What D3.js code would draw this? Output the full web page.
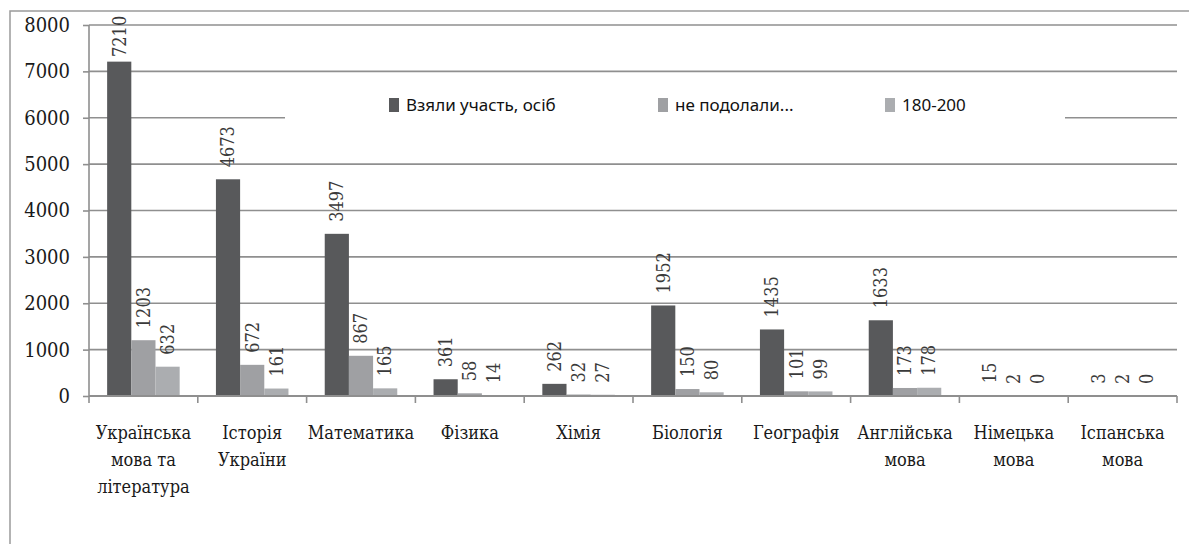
<!DOCTYPE html>
<html><head><meta charset="utf-8">
<script src="https://cdn.jsdelivr.net/npm/d3@7"></script>
<style>html,body{margin:0;padding:0;background:#fff;overflow:hidden}
.serif{font-family:"DejaVu Serif Condensed","DejaVu Serif",serif;font-stretch:condensed}</style>
</head><body><svg id="c" width="1189" height="544"></svg>
<script>
const categories = [["Українська","мова та","література"],["Історія","України"],["Математика"],["Фізика"],["Хімія"],["Біологія"],["Географія"],["Англійська","мова"],["Німецька","мова"],["Іспанська","мова"]];
const seriesNames = ["Взяли участь, осіб","не подолали...","180-200"];
const took = [7210,4673,3497,361,262,1952,1435,1633,15,3];
const failed = [1203,672,867,58,32,150,101,173,2,2];
const top180 = [632,161,165,14,27,80,99,178,0,0];
const yTicks = [0,1000,2000,3000,4000,5000,6000,7000,8000];
const series = [took, failed, top180];
const colors = ["#58595b","#9fa0a3","#abadb0"];

const svg = d3.select("#c");
const L = 89, R = 1177, T = 25, B = 396;
const catKeys = categories.map((c,i)=>i);
const x = d3.scaleBand().domain(catKeys).range([L,R]).paddingInner(0).paddingOuter(0);
const xs = d3.scaleBand().domain([0,1,2]).range([0,x.bandwidth()]).paddingInner(0).paddingOuter(0.75);
const y = d3.scaleLinear().domain([0,8000]).range([B,T]);
const grid = "#8f8f8f";

svg.append("rect").attr("x",10).attr("y",11).attr("width",1300).attr("height",700)
  .attr("fill","none").attr("stroke","#9a9a9a").attr("stroke-width",1.5);

svg.append("g").selectAll("line").data(yTicks.filter(d=>d>0)).join("line")
  .attr("x1",L).attr("x2",R).attr("y1",d=>y(d)).attr("y2",d=>y(d))
  .attr("stroke",grid).attr("stroke-width",1.6);

svg.append("rect").attr("x",285).attr("y",86).attr("width",780).attr("height",52).attr("fill","#fff");

const gBars = svg.append("g");
series.forEach((s,si)=>{
  gBars.selectAll(null).data(s).join("rect")
    .attr("x",(d,i)=>x(i)+xs(si)).attr("width",xs.bandwidth())
    .attr("y",d=>y(d)).attr("height",d=>B-y(d)).attr("fill",colors[si]);
});

series.forEach((s,si)=>{
  svg.append("g").selectAll("text").data(s).join("text")
    .attr("class","serif")
    .attr("transform",(d,i)=>`translate(${x(i)+xs(si)+xs.bandwidth()/2},${Math.max(y(d)-12,57)}) rotate(-90)`)
    .attr("dy","0.35em").attr("text-anchor","start")
    .style("font-size","18px").attr("fill","#3a3a3a").text(d=>d);
});

const yAxis = svg.append("g").attr("transform",`translate(${L},0)`)
  .call(d3.axisLeft(y).tickValues(yTicks).tickSize(6).tickPadding(13).tickFormat(d3.format("d")));
yAxis.attr("font-family",null).attr("font-size",null);
yAxis.select(".domain").attr("stroke",grid).attr("stroke-width",1.6).attr("d",`M0,${T}V${B}`);
yAxis.selectAll(".tick line").attr("stroke",grid).attr("stroke-width",1.6);
yAxis.selectAll(".tick text").attr("class","serif").style("font-size","20px").attr("fill","#1a1a1a");

const xAxis = svg.append("g").attr("transform",`translate(0,${B})`);
xAxis.append("line").attr("x1",L).attr("x2",R).attr("stroke",grid).attr("stroke-width",1.8);
xAxis.selectAll(".tk").data(d3.range(categories.length+1)).join("line")
  .attr("x1",i=>L+i*x.step()).attr("x2",i=>L+i*x.step()).attr("y1",0).attr("y2",7)
  .attr("stroke",grid).attr("stroke-width",1.6);
const labels = xAxis.selectAll(".cl").data(categories).join("text")
  .attr("class","serif")
  .attr("x",(d,i)=>x(i)+x.bandwidth()/2).attr("y",43)
  .attr("text-anchor","middle").style("font-size","18px").attr("fill","#1a1a1a");
labels.each(function(d){
  const t = d3.select(this);
  d.forEach((line,j)=>t.append("tspan").attr("x",t.attr("x")).attr("dy",j===0?0:27).text(line));
});

const legX = [389,658,885];
seriesNames.forEach((n,i)=>{
  svg.append("rect").attr("x",legX[i]).attr("y",98).attr("width",10).attr("height",14).attr("fill",colors[i]);
  svg.append("text").attr("font-family","Noto Sans").attr("x",legX[i]+17).attr("y",111)
    .attr("font-size",17).attr("fill","#111").text(n);
});
</script></body></html>
